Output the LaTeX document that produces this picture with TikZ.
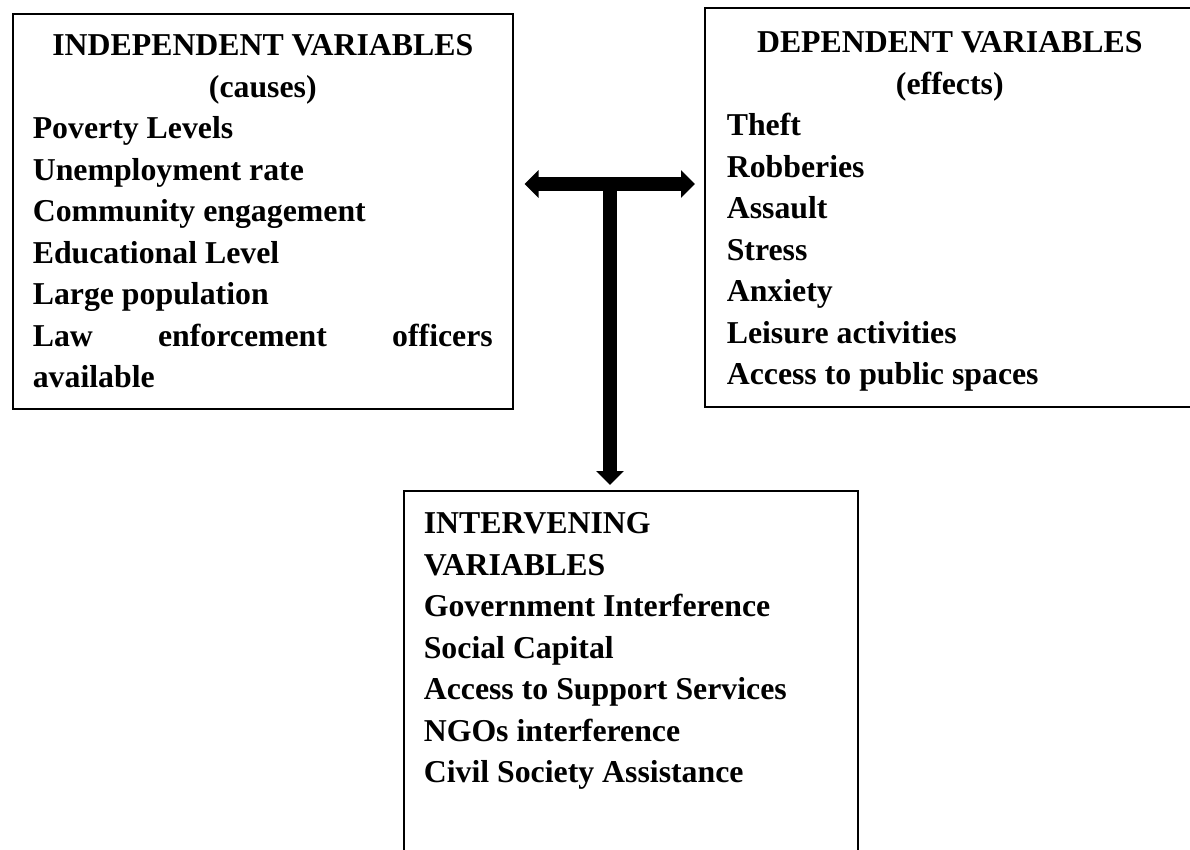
\documentclass[tikz,border=0pt]{standalone}
\usepackage{fontspec}
\setmainfont{Liberation Serif}
\usetikzlibrary{arrows.meta}
\tikzset{
    varbox/.style={
           rectangle,
           draw=black, line width=1.6pt,
           anchor=north west,
           inner xsep=20pt,
           inner ysep=0pt,
           font=\fontsize{31.8}{41.5}\selectfont\bfseries,
           },
    bigarrow/.style={
           line width=13.5pt,
           >={Triangle[length=14pt,width=27pt]},
           },
}
\begin{document}
\begin{tikzpicture}[x=1pt,y=-1pt]
  \useasboundingbox (0,0) rectangle (1190,850);
  \clip (0,0) rectangle (1190,850);
  \node[varbox] (indep) at (12,13)
 {%
 \parbox[t][395pt][t]{460pt}{%
  {\centering\rule{0pt}{42pt}INDEPENDENT VARIABLES\\
   (causes)\par}
  Poverty Levels\\
  Unemployment rate\\
  Community engagement\\
  Educational Level\\
  Large population\\
  Law enforcement officers\linebreak available}
 };
  \node[varbox,
 inner xsep=22pt] (dep) at (704,7)
 {%
 \parbox[t][399pt][t]{446pt}{%
  {\centering\rule{0pt}{45pt}DEPENDENT VARIABLES\\
   (effects)\par}
  Theft\\
  Robberies\\
  Assault\\
  Stress\\
  Anxiety\\
  Leisure activities\\
  Access to public spaces}
 };
  \node[varbox] (interv) at (403,490)
 {%
 \parbox[t][420pt][t]{414pt}{%
  \rule{0pt}{43pt}INTERVENING\\
  VARIABLES\\
  Government Interference\\
  Social Capital\\
  Access to Support Services\\
  NGOs interference\\
  Civil Society Assistance}
 };
  \coordinate (junction) at (610,184);
\draw[bigarrow,<->,shorten <=11pt,shorten >=9pt]
  (indep.east |- junction) -- (dep.west |- junction);
\draw[bigarrow,->,shorten >=5pt]
  (junction) -- (interv.north -| junction);
\end{tikzpicture}
\end{document}
